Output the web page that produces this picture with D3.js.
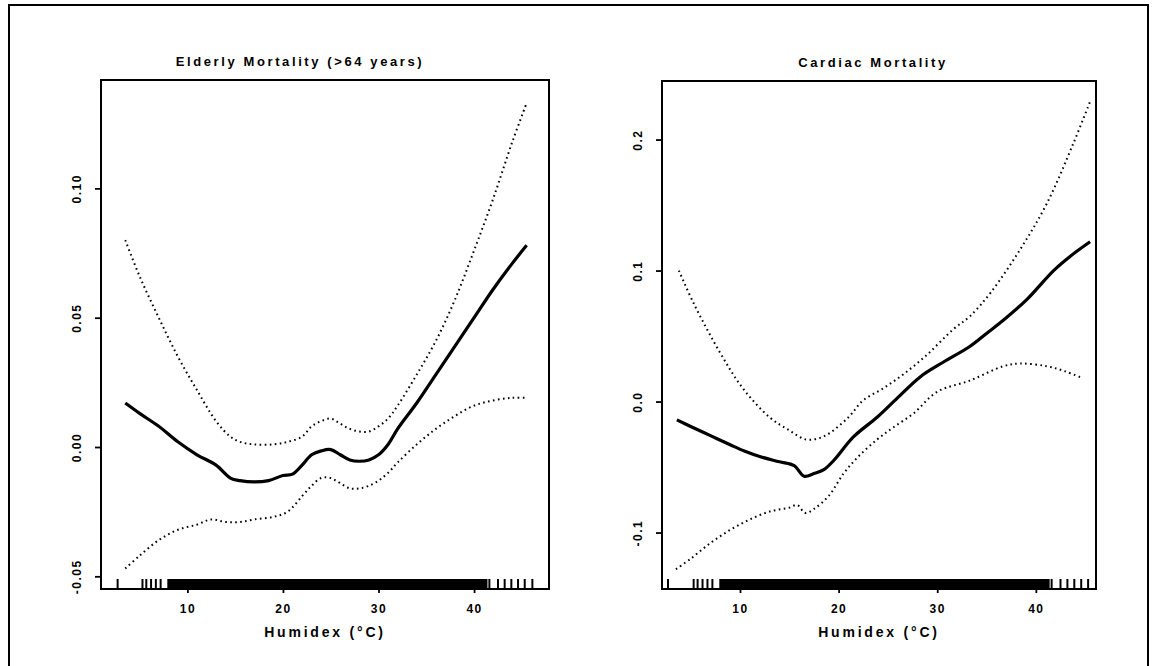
<!DOCTYPE html>
<head>
  <meta charset="utf-8">
  <script src="https://d3js.org/d3.v7.min.js"></script>
  <style>
    body { margin: 0; background: #fff; }
    text { font-family: "Liberation Sans", Arial, sans-serif; font-weight: bold; fill: #000; }
  </style>
</head>
<body>
  <svg width="1157" height="666"></svg>
  <script>
    // humidex (°C) vs. change in mortality, smooth fit with dotted confidence band
    const xTicks = [10, 20, 30, 40];

    const elderlyTitle = 'Elderly Mortality (>64 years)';
    const elderlyYTicks = [-0.05, 0.00, 0.05, 0.10];
    const elderlyYLabels = ['-0.05', '0.00', '0.05', '0.10'];
    const elderlyFit = [
      [3.5, 0.017], [5, 0.013], [7, 0.008], [9, 0.002], [11, -0.003], [13, -0.007],
      [14.5, -0.012], [15.5, -0.013], [17, -0.0135], [18.5, -0.013], [20, -0.011],
      [21, -0.0105], [22, -0.007], [23, -0.003], [24, -0.0015], [25, -0.001],
      [26, -0.003], [27, -0.005], [28, -0.0055], [29, -0.005], [30, -0.003],
      [31, 0.001], [32, 0.007], [34, 0.017], [36, 0.028], [38, 0.039], [40, 0.050],
      [42, 0.061], [44, 0.071], [45.5, 0.078]
    ];
    const elderlyUpper = [
      [3.5, 0.080], [5, 0.066], [7, 0.050], [9, 0.035], [11, 0.022], [13, 0.010],
      [14.5, 0.004], [15.5, 0.002], [17, 0.001], [19, 0.001], [20.5, 0.002],
      [22, 0.004], [23, 0.008], [24, 0.010], [25, 0.011], [26, 0.009], [27, 0.007],
      [28, 0.006], [29, 0.006], [30, 0.008], [31, 0.011], [32, 0.016], [34, 0.028],
      [36, 0.041], [38, 0.057], [40, 0.076], [42, 0.096], [44, 0.118], [45.5, 0.133]
    ];
    const elderlyLower = [
      [3.5, -0.047], [5, -0.042], [7, -0.036], [9, -0.032], [11, -0.030],
      [12.5, -0.028], [14, -0.029], [15.5, -0.029], [17, -0.028], [19, -0.027],
      [20.5, -0.025], [22, -0.019], [23, -0.015], [24, -0.012], [25, -0.012],
      [26, -0.014], [27, -0.016], [28, -0.016], [29, -0.015], [30, -0.013],
      [31, -0.010], [32, -0.006], [34, 0.001], [36, 0.007], [38, 0.012],
      [40, 0.016], [42, 0.018], [44, 0.019], [45.5, 0.019]
    ];

    const cardiacTitle = 'Cardiac Mortality';
    const cardiacYTicks = [-0.1, 0.0, 0.1, 0.2];
    const cardiacYLabels = ['-0.1', '0.0', '0.1', '0.2'];
    const cardiacFit = [
      [3.6, -0.014], [5, -0.019], [7, -0.026], [9, -0.033], [10.5, -0.038],
      [12, -0.042], [14, -0.046], [15.5, -0.049], [16.5, -0.057], [17.5, -0.055],
      [18.5, -0.052], [19.5, -0.045], [21.5, -0.027], [23.9, -0.012], [26, 0.003],
      [28.3, 0.019], [30.6, 0.030], [33.3, 0.042], [35, 0.052], [36.7, 0.062],
      [39.1, 0.078], [41.8, 0.100], [43.5, 0.111], [45.5, 0.122]
    ];
    const cardiacUpper = [
      [3.8, 0.100], [5.3, 0.075], [8, 0.037], [10.3, 0.010], [13, -0.012],
      [15, -0.022], [16.7, -0.029], [18, -0.028], [19.1, -0.024], [21, -0.012],
      [22.5, 0.001], [24.5, 0.010], [26.6, 0.021], [29, 0.036], [31.6, 0.055],
      [33.3, 0.065], [35.4, 0.083], [38.4, 0.116], [41.1, 0.151], [43.8, 0.197],
      [45.5, 0.229]
    ];
    const cardiacLower = [
      [3.5, -0.128], [5, -0.120], [7, -0.108], [9, -0.098], [11, -0.090],
      [13, -0.084], [15, -0.081], [15.8, -0.079], [16.6, -0.085], [17.5, -0.082],
      [19, -0.072], [20.5, -0.055], [22, -0.042], [23.9, -0.029], [25.5, -0.020],
      [27.6, -0.009], [30, 0.0075], [33.3, 0.016], [36.7, 0.027], [38.4, 0.029],
      [41.1, 0.027], [43, 0.023], [44.7, 0.018]
    ];

    // observed humidex days: isolated rug ticks plus the dense stretch
    const rugSparse = [2.7, 5.3, 5.7, 6.2, 6.7, 7.2, 41.6, 42.5, 43.2, 43.9, 44.6, 45.3, 46.1];
    const rugDense = [7.9, 41.4];

    const svg = d3.select('svg');

    // outer frame
    svg.append('rect')
      .attr('x', 9).attr('y', 5).attr('width', 1139).attr('height', 680)
      .attr('fill', 'none').attr('stroke', '#000').attr('stroke-width', 2);

    const panels = [
      { title: elderlyTitle, fit: elderlyFit, upper: elderlyUpper, lower: elderlyLower,
        yTicks: elderlyYTicks, yLabels: elderlyYLabels, titleX: 300,
        left: 101, right: 549, top: 80, bottom: 589,
        xDomain: [0.96, 47.84], yDomain: [-0.0549, 0.1419] },
      { title: cardiacTitle, fit: cardiacFit, upper: cardiacUpper, lower: cardiacLower,
        yTicks: cardiacYTicks, yLabels: cardiacYLabels, titleX: 873,
        left: 662, right: 1096, top: 81, bottom: 589,
        xDomain: [2.09, 46.1], yDomain: [-0.1431, 0.2447] }
    ];

    panels.forEach(p => {
      const x = d3.scaleLinear().domain(p.xDomain).range([p.left, p.right]);
      const y = d3.scaleLinear().domain(p.yDomain).range([p.bottom, p.top]);
      const g = svg.append('g');

      const clipId = 'clip' + p.left;
      g.append('clipPath').attr('id', clipId)
        .append('rect')
        .attr('x', p.left).attr('y', p.top)
        .attr('width', p.right - p.left).attr('height', p.bottom - p.top);

      const line = d3.line()
        .x(d => x(d[0])).y(d => y(d[1]))
        .curve(d3.curveCatmullRom);

      const plot = g.append('g').attr('clip-path', `url(#${clipId})`);

      // rug
      plot.append('rect')
        .attr('x', x(rugDense[0])).attr('y', p.bottom - 10)
        .attr('width', x(rugDense[1]) - x(rugDense[0])).attr('height', 10)
        .attr('fill', '#000');
      plot.selectAll('.rug').data(rugSparse).join('line')
        .attr('x1', d => x(d)).attr('x2', d => x(d))
        .attr('y1', p.bottom).attr('y2', p.bottom - 10)
        .attr('stroke', '#000').attr('stroke-width', 2);

      [p.upper, p.lower].forEach(band => {
        plot.append('path').datum(band)
          .attr('d', line)
          .attr('fill', 'none').attr('stroke', '#000')
          .attr('stroke-width', 2).attr('stroke-dasharray', '1.6,3.4');
      });
      plot.append('path').datum(p.fit)
        .attr('d', line)
        .attr('fill', 'none').attr('stroke', '#000')
        .attr('stroke-width', 3.2).attr('stroke-linejoin', 'round');

      // axes
      const xAxis = g.append('g')
        .attr('transform', `translate(0,${p.bottom})`)
        .call(d3.axisBottom(x).tickValues(xTicks).tickSize(4).tickPadding(11));
      const yAxis = g.append('g')
        .attr('transform', `translate(${p.left},0)`)
        .call(d3.axisLeft(y).tickValues(p.yTicks).tickSize(6)
          .tickFormat((d, i) => p.yLabels[i]));
      [xAxis, yAxis].forEach(a => {
        a.select('.domain').remove();
        a.selectAll('line').attr('stroke', '#000').attr('stroke-width', 1.8);
        a.selectAll('text')
          .style('font-family', '"Liberation Sans", Arial, sans-serif')
          .style('font-weight', 'bold').style('font-size', '12px')
          .style('letter-spacing', '1.5px').attr('fill', '#000');
      });
      yAxis.selectAll('.tick text')
        .attr('x', 0).attr('y', 0).attr('dy', '0.35em')
        .attr('text-anchor', 'middle')
        .attr('transform', 'translate(-24,0) rotate(-90)');

      // box
      g.append('rect')
        .attr('x', p.left).attr('y', p.top)
        .attr('width', p.right - p.left).attr('height', p.bottom - p.top)
        .attr('fill', 'none').attr('stroke', '#000').attr('stroke-width', 2);

      // titles
      g.append('text')
        .attr('x', p.titleX).attr('y', p.top - 14)
        .attr('text-anchor', 'middle')
        .style('font-size', '13px').style('letter-spacing', '2.6px')
        .text(p.title);
      g.append('text')
        .attr('x', (p.left + p.right) / 2).attr('y', p.bottom + 48)
        .attr('text-anchor', 'middle')
        .style('font-size', '14px').style('letter-spacing', '2.8px')
        .text('Humidex (°C)');
    });
  </script>
</body>
